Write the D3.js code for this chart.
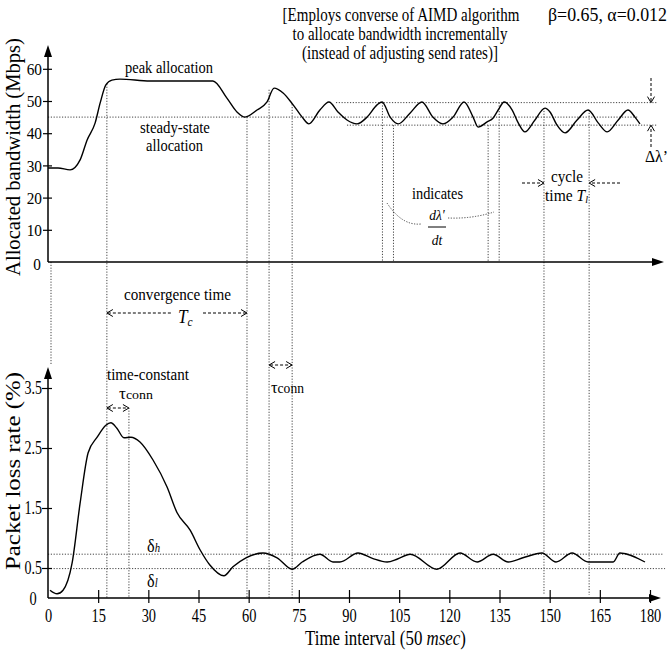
<!DOCTYPE html>
<html><head><meta charset="utf-8">
<script src="https://cdn.jsdelivr.net/npm/d3@7"></script>
<style>
body{margin:0;background:#fff}
svg{display:block}
text{font-family:"Liberation Serif","Times New Roman",serif;fill:#000}
</style>
</head><body>
<svg id="chart" width="668" height="654"></svg>
<script>
// ---------------- data ----------------
const bwTime  = [0,3,6.6,9.6,11.7,14.1,15.6,17.3,19.1,21.5,30.5,39.5,49.3,53.5,56.5,58.9,62.5,65.5,67.6,70.3,73.3,76,78,81.3,84,86.7,89.4,92.4,95.4,98.4,99.9,102.3,104.7,108.3,111.8,115.1,118.1,121.1,124.4,127.1,128.6,131.3,133.1,134.6,136.4,138.8,140.6,142.6,145.6,148.6,150.1,152.2,154.6,158.2,161.5,164.5,167.2,170.5,173.4,175.5,177];
const bwValue = [29.2,29.2,28.6,31.7,37.9,43.2,49.4,55,56.5,56.8,56.2,56.2,56.2,50.9,46.6,45,47.2,49.7,54,52.5,48.8,45,42.9,47.2,49.7,46.6,44.1,42.9,45,48.8,49.7,45,42.9,46.3,49.7,45,42.9,45,49.7,45,41.9,43.5,44.7,47.2,49.7,47.2,43.2,40.4,44.1,47.8,46.6,42.5,40.1,44.1,47.2,43.2,40.4,44.1,47.2,45,42.9];

const lossTime  = [0.6,2.7,4.5,7.2,9.6,12,14.7,17.3,18.8,20.6,22.7,24.8,27.5,31.4,35.6,38.6,42.5,45.5,48.4,52.6,55.3,59.2,64.3,68.5,73,76,81.3,85.2,87.3,92.7,97,101.4,104.5,108.3,116.3,123.2,128.3,133.1,137.6,142,147.7,151.9,156.7,161.5,169,171,178.5];
const lossValue = [0.13,0.07,0.13,0.58,1.58,2.42,2.68,2.88,2.92,2.83,2.67,2.68,2.6,2.3,1.85,1.42,1.13,0.8,0.55,0.37,0.52,0.67,0.75,0.67,0.48,0.6,0.73,0.6,0.6,0.75,0.66,0.6,0.65,0.73,0.48,0.75,0.6,0.73,0.6,0.67,0.75,0.6,0.75,0.6,0.6,0.75,0.6];

const xTickValues   = [0,15,30,45,60,75,90,105,120,135,150,165,180];
const bwTickValues  = [10,20,30,40,50,60];
const lossTickValues = [0.5,1.5,2.5,3.5];

const steadyLevel = 45, bwUpper = 49.5, bwLower = 42.5;
const deltaH = 0.73, deltaL = 0.49;

// ---------------- setup ----------------
const svg = d3.select('#chart');
const x    = d3.scaleLinear().domain([0,180]).range([48,650]);
const yTop = d3.scaleLinear().domain([0,60]).range([262,68.8]);
const yBot = d3.scaleLinear().domain([0,3.5]).range([598,388]);

const DOT = '1.2,1.6', DOTC = '#444';

function line(x1,y1,x2,y2,opt={}){
  return svg.append('line').attr('x1',x1).attr('y1',y1).attr('x2',x2).attr('y2',y2)
    .attr('stroke',opt.color||'#000').attr('stroke-width',opt.w||1)
    .attr('stroke-dasharray',opt.dash||null);
}
function dotted(x1,y1,x2,y2){ return line(x1,y1,x2,y2,{dash:DOT,color:DOTC,w:1}); }
function dashed(x1,y1,x2,y2){ return line(x1,y1,x2,y2,{dash:'3,2',color:'#000',w:1}); }
function chevron(px,py,dir){ // open arrow head
  const s=6,h=3.5; let d;
  if(dir==='r') d=`M${px-s},${py-h}L${px},${py}L${px-s},${py+h}`;
  if(dir==='l') d=`M${px+s},${py-h}L${px},${py}L${px+s},${py+h}`;
  if(dir==='d') d=`M${px-h},${py-s}L${px},${py}L${px+h},${py-s}`;
  if(dir==='u') d=`M${px-h},${py+s}L${px},${py}L${px+h},${py+s}`;
  svg.append('path').attr('d',d).attr('fill','none').attr('stroke','#000').attr('stroke-width',1);
}
function solidArrow(px,py,dir){
  const L=12,W=4;let d;
  if(dir==='u') d=`M${px},${py}L${px-W},${py+L}L${px+W},${py+L}Z`;
  if(dir==='r') d=`M${px},${py}L${px-L},${py-W}L${px-L},${py+W}Z`;
  svg.append('path').attr('d',d).attr('fill','#000');
}
// text helper: build, then fit width by horizontal scale
function label(px,py,parts,opt={}){
  const t = svg.append('text').attr('font-size',opt.size||16)
    .attr('text-anchor',opt.anchor||'start');
  if(typeof parts==='string') parts=[{s:parts}];
  parts.forEach(p=>{
    const ts=t.append('tspan').text(p.s);
    if(p.i) ts.attr('font-style','italic');
    if(p.size) ts.attr('font-size',p.size);
    if(p.dy!==undefined) ts.attr('dy',p.dy);
  });
  let sx = opt.sx||1;
  if(opt.w){ const L=t.node().getComputedTextLength(); if(L>0) sx=opt.w/L; }
  const rot = opt.rot?` rotate(${opt.rot})`:'';
  t.attr('transform',`translate(${px},${py})${rot} scale(${sx},1)`);
  return t;
}

// ---------------- guides (dotted) ----------------
dotted(x(0),yTop(steadyLevel),x(176.3),yTop(steadyLevel));
dotted(x(86.1),yTop(bwUpper),x(182.1),yTop(bwUpper));
dotted(x(89.4),yTop(bwLower),x(182.1),yTop(bwLower));
dotted(x(0),yBot(deltaH),x(183.9),yBot(deltaH));
dotted(x(0),yBot(deltaL),x(184.5),yBot(deltaL));
dotted(x(0.9),yTop(0),x(0.9),yBot(3.88));
dotted(x(17.6),yTop(55.3),x(17.6),yBot(0));
dotted(x(59.5),yTop(steadyLevel),x(59.5),yBot(0));
dotted(x(66.1),yTop(53.5),x(66.1),yBot(0));
dotted(x(73),yTop(49),x(73),yBot(0));
dotted(x(24.2),yBot(3.17),x(24.2),yBot(0));
dotted(x(100),yTop(bwUpper),x(100),yTop(0));
dotted(x(103.3),yTop(bwLower),x(103.3),yTop(0));
dotted(x(131.6),yTop(bwLower),x(131.6),yTop(0));
dotted(x(134.9),yTop(bwUpper),x(134.9),yTop(0));
dotted(x(148.3),yTop(47.8),x(148.3),yBot(0.05));
dotted(x(161.8),yTop(47.2),x(161.8),yBot(0.05));

// ---------------- axes ----------------
line(x(0),yTop(0),660,yTop(0),{w:1.5}); solidArrow(664,yTop(0),'r');
line(x(0),yTop(0),x(0),57,{w:1.5}); solidArrow(x(0),45,'u');
const gyTop = svg.append('g').attr('transform',`translate(${x(0)},0)`)
  .call(d3.axisLeft(yTop).tickValues(bwTickValues).tickSizeOuter(0).tickSizeInner(0).tickPadding(6));
gyTop.select('.domain').remove();
gyTop.selectAll('.tick line').attr('x1',-5).attr('x2',4).attr('stroke','#000').attr('stroke-width',1.2);
gyTop.selectAll('.tick text').attr('font-size',17).attr('x',null).attr('dy','0.33em')
  .attr('transform','translate(-6,0) scale(0.9,1)');
label(37,yTop(0)+8,'0',{size:17,anchor:'middle',sx:0.9});

line(x(0),yBot(0),657,yBot(0),{w:1.5}); solidArrow(661,yBot(0),'r');
line(x(0),yBot(0),x(0),379,{w:1.5}); solidArrow(x(0),367,'u');
const gyBot = svg.append('g').attr('transform',`translate(${x(0)},0)`)
  .call(d3.axisLeft(yBot).tickValues(lossTickValues).tickSizeOuter(0).tickSizeInner(0).tickPadding(6));
gyBot.select('.domain').remove();
gyBot.selectAll('.tick line').attr('x1',-6).attr('x2',4).attr('stroke','#000').attr('stroke-width',1.2);
gyBot.selectAll('.tick text').attr('font-size',18).attr('x',null).attr('dy','0.33em')
  .attr('transform','translate(-6,0) scale(0.78,1)');
label(33,yBot(0)+7,'0',{size:18,anchor:'middle',sx:0.8});

const gx = svg.append('g').attr('transform',`translate(0,${yBot(0)})`)
  .call(d3.axisBottom(x).tickValues(xTickValues).tickSizeOuter(0).tickSizeInner(0));
gx.select('.domain').remove();
gx.selectAll('.tick line').attr('y1',-8).attr('y2',5).attr('stroke','#000').attr('stroke-width',1.2)
  .filter(d=>d===0).remove();
gx.selectAll('.tick text').attr('font-size',18).attr('y',24).attr('dy',null)
  .attr('transform','scale(0.8,1)');

// ---------------- series ----------------
const bwPts = bwTime.map((t,i)=>[t,bwValue[i]]);
const lossPts = lossTime.map((t,i)=>[t,lossValue[i]]);
svg.append('path').datum(bwPts).attr('fill','none').attr('stroke','#000').attr('stroke-width',1.4)
  .attr('d',d3.line().x(d=>x(d[0])).y(d=>yTop(d[1])).curve(d3.curveMonotoneX));
svg.append('path').datum(lossPts).attr('fill','none').attr('stroke','#000').attr('stroke-width',1.4)
  .attr('d',d3.line().x(d=>x(d[0])).y(d=>yBot(d[1])).curve(d3.curveMonotoneX));

// ---------------- annotations ----------------
dashed(x(17.6)+1,313,172,313); dashed(203,313,x(59.5)-1,313);
chevron(x(17.6),313,'l'); chevron(x(59.5),313,'r');
dashed(x(17.6)+1,408,x(24.2)-1,408); chevron(x(17.6),408,'l'); chevron(x(24.2),408,'r');
dashed(x(66.1)+1,365,x(73)-1,365); chevron(x(66.1),365,'l'); chevron(x(73),365,'r');
dashed(522,183,x(148.3)-1,183); chevron(x(148.3),183,'r');
dashed(620,183,x(161.8)+1,183); chevron(x(161.8),183,'l');
dashed(651,78,651,yTop(bwUpper)-1); chevron(651,yTop(bwUpper),'d');
dashed(651,147,651,yTop(bwLower)+1); chevron(651,yTop(bwLower),'u');
svg.append('path').attr('d','M387,203 Q402,226 421,224').attr('fill','none').attr('stroke',DOTC).attr('stroke-dasharray','1.2,1.5');
svg.append('path').attr('d','M448,218 Q472,219 494,212').attr('fill','none').attr('stroke',DOTC).attr('stroke-dasharray','1.2,1.5');
line(428,227,446,227,{w:1});

// texts
label(401,21,'[Employs converse of AIMD algorithm',{size:18,anchor:'middle',w:237});
label(400,40,'to allocate bandwidth incrementally',{size:18,anchor:'middle',w:215});
label(400,59,'(instead of adjusting send rates)]',{size:18,anchor:'middle',w:196});
label(548,21,'β=0.65, α=0.012',{size:18,w:119});
label(125,73,'peak allocation',{size:17,w:88});
label(140,133,'steady-state',{size:17,w:70});
label(146,151,'allocation',{size:17,w:57});
label(412,199,'indicates',{size:17,w:51});
label(437,220,[{s:"dλ'",i:true}],{size:15,anchor:'middle',sx:0.9});
label(437,245,[{s:'dt',i:true}],{size:15,anchor:'middle',sx:0.9});
label(551,182,'cycle',{size:17,w:32});
label(545,201,[{s:'time '},{s:'T',i:true},{s:'l',i:true,size:11,dy:2}],{size:17,w:43});
label(645,162,"Δλ’",{size:17,w:23});
label(124,300,'convergence time',{size:17,w:107});
label(178,323,[{s:'T',i:true,size:18},{s:'c',i:true,size:12,dy:3}],{size:18,sx:0.95});
label(107,380,'time-constant',{size:16,w:82});
label(119,399,[{s:'τ',size:16},{s:'conn',size:13}],{size:16,w:34});
label(271,393,[{s:'τ',size:17},{s:'conn',size:14}],{size:17,w:33});
label(147,552,[{s:'δ',size:18},{s:'h',i:true,size:12}],{size:18,sx:0.9});
label(147,587,[{s:'δ',size:18},{s:'l',i:true,size:12}],{size:18,sx:0.9});

// axis titles
label(20,157,'Allocated bandwidth (Mbps)',{size:20,anchor:'middle',rot:-90,w:238});
label(20,471,'Packet loss rate (%)',{size:20,anchor:'middle',rot:-90,w:198});
label(305,645,[{s:'Time interval (50 '},{s:'msec',i:true},{s:')'}],{size:20,w:161});
</script>
</body></html>
